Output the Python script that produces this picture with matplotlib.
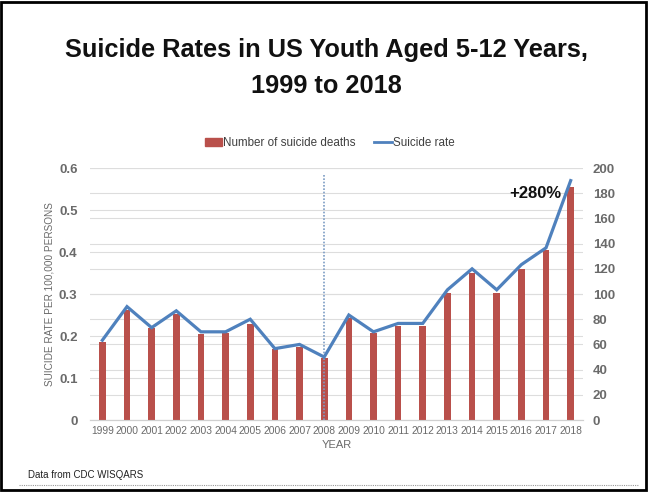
import matplotlib.pyplot as plt
import matplotlib.transforms as mtransforms
from matplotlib.patches import Rectangle

plt.rcParams['font.family'] = ['Liberation Sans', 'DejaVu Sans']

years = [str(y) for y in range(1999, 2019)]
deaths = [62, 87, 73, 84, 68, 69, 76, 56, 58, 49,
          81, 69, 75, 75, 101, 117, 101, 120, 135, 185]
rate = [0.19, 0.27, 0.22, 0.26, 0.21, 0.21, 0.24, 0.17, 0.18, 0.15,
        0.25, 0.21, 0.23, 0.23, 0.31, 0.36, 0.31, 0.37, 0.41, 0.57]
rate_ticks = [0, 0.1, 0.2, 0.3, 0.4, 0.5, 0.6]
rate_labels = ['0', '0.1', '0.2', '0.3', '0.4', '0.5', '0.6']
death_ticks = list(range(0, 201, 20))

bar_color = '#B9504B'
line_color = '#4F81BD'
grid_color = '#DDDDDD'
tick_color = '#6A6A6A'

fig = plt.figure(figsize=(6.49, 4.92), dpi=100)
ax = fig.add_axes([0.1387, 0.1463, 0.7596, 0.5122])
ax2 = ax.twinx()

x = list(range(len(years)))

# bars on the deaths axis (bottom layer, holds the grid too)
ax.bar(x, deaths, width=0.27, color=bar_color, zorder=3)
ax.set_ylim(0, 200)
ax.set_yticks(death_ticks)
ax.yaxis.tick_right()
ax.grid(axis='y', color=grid_color, linewidth=0.8, zorder=0)
blend = mtransforms.blended_transform_factory(ax.transAxes, ax2.transData)
for v in rate_ticks[1:]:
    ax.plot([0, 1], [v, v], transform=blend, color=grid_color, linewidth=0.8, zorder=0)

# rate line on top, ticks on the left
ax2.plot(x, rate, color=line_color, linewidth=2.3, zorder=4, solid_joinstyle='miter')
ax2.set_ylim(0, 0.6)
ax2.set_yticks(rate_ticks)
ax2.set_yticklabels(rate_labels)
ax2.yaxis.tick_left()
ax2.yaxis.set_label_position('left')
ax2.set_ylabel('SUICIDE RATE PER 100,000 PERSONS', fontsize=7.2, color=tick_color, labelpad=3)
ax2.vlines(9, 0, 0.583, colors='#7C9CC4', linestyles=(0, (1, 1)), linewidth=1.2)
ax2.text(18.62, 0.54, '+280%', ha='right', va='center', fontsize=12, fontweight='bold', color='#111111')

ax.set_xlim(-0.5, len(years) - 0.5)
ax.set_xticks(x)
ax.set_xticklabels(years, fontsize=7.4, color=tick_color)
ax.set_xlabel('YEAR', fontsize=8, color=tick_color, labelpad=3)

for a in (ax, ax2):
    for s in ('top', 'left', 'right'):
        a.spines[s].set_visible(False)
    a.spines['bottom'].set_color('#D0D0D0')
    a.tick_params(axis='both', length=0, pad=6)
ax.tick_params(axis='x', pad=4)
ax.tick_params(axis='y', labelsize=9.5, labelcolor=tick_color, pad=7)
ax2.tick_params(axis='y', labelsize=9.5, labelcolor=tick_color, pad=9)
for lab in ax.get_yticklabels() + ax2.get_yticklabels():
    lab.set_fontweight('bold')

# legend
h1 = Rectangle((0, 0), 1, 1, color=bar_color)
h2, = ax2.plot([], [], color=line_color, linewidth=2)
fig.legend([h1, h2], ['Number of suicide deaths', 'Suicide rate'],
           loc='center', bbox_to_anchor=(0.508, 0.709), ncol=2, frameon=False,
           fontsize=8.4, labelcolor='#404040', handlelength=1.5, handleheight=0.6,
           handletextpad=0.1, columnspacing=1.6)

fig.text(0.503, 0.898, 'Suicide Rates in US Youth Aged 5-12 Years,', ha='center', va='center',
         fontsize=18.3, fontweight='bold', color='#111111')
fig.text(0.503, 0.825, '1999 to 2018', ha='center', va='center',
         fontsize=18.3, fontweight='bold', color='#111111')
fig.text(0.043, 0.035, 'Data from CDC WISQARS', ha='left', va='center', fontsize=7, color='#222222')

# frame and dotted footer line
fig.patches.append(Rectangle((0.002, 0.004), 0.994, 0.992, transform=fig.transFigure,
                             fill=False, edgecolor='black', linewidth=2))
fig.lines.append(plt.Line2D([0.03, 0.985], [0.014, 0.014], transform=fig.transFigure,
                            color='#999999', linewidth=0.8, linestyle=(0, (1, 1))))

fig.savefig('out.png', dpi=100)
